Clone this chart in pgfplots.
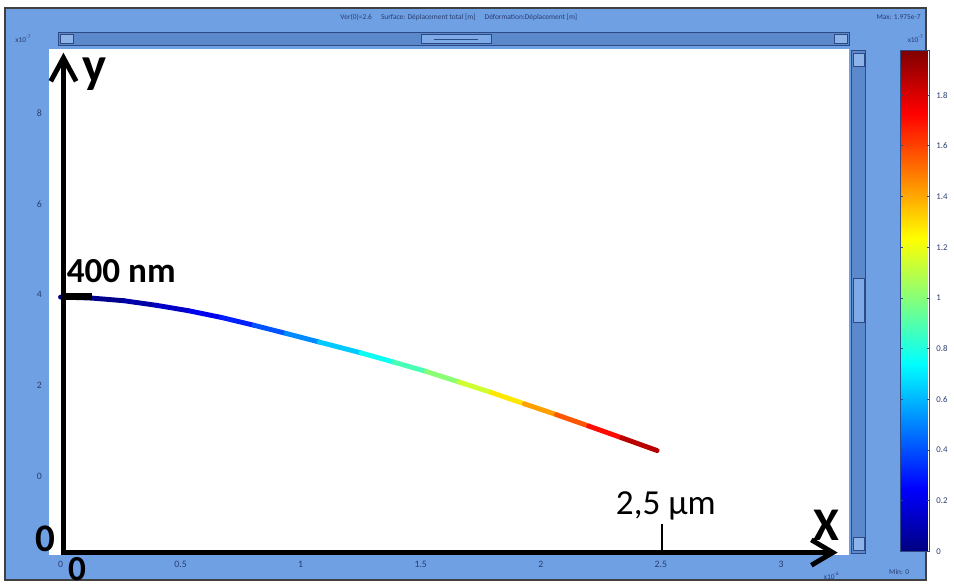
\documentclass[border=0pt]{standalone}
\usepackage{pgfplots}
\pgfplotsset{compat=1.18}
\usepackage{fontspec}
\setmainfont{Carlito}
\usetikzlibrary{arrows.meta}
\definecolor{bgblue}{RGB}{112,160,228}
\definecolor{sbblue}{RGB}{92,136,204}
\definecolor{sbdark}{RGB}{45,75,130}
\definecolor{ticktxt}{RGB}{40,60,110}
\begin{document}
\begin{tikzpicture}
% ---------- window background (pixel coordinates) ----------
\begin{scope}[x=0.5pt,y=-0.5pt,shift={(0pt,299.5pt)}]
  \fill[white] (0,0) rectangle (954,599);
  \fill[bgblue] (5,8) rectangle (949,594);
  \draw[black!75,line width=1pt] (5,8) rectangle (949,594);
  % top scrollbar
  \fill[sbblue] (60,33) rectangle (870,47);
  \draw[sbdark,line width=0.5pt] (60,33) rectangle (870,47);
  \draw[sbdark,line width=0.5pt,fill=bgblue!80!white] (62,35) rectangle (75,45);
  \draw[sbdark,line width=0.5pt,fill=bgblue!80!white] (855,35) rectangle (868,45);
  \draw[sbdark,line width=0.5pt,fill=bgblue!90!white] (432,35) rectangle (503,45);
  \draw[sbdark,line width=0.4pt] (445,40) -- (490,40);
  % right scrollbar
  \fill[sbblue] (872,52) rectangle (887,567);
  \draw[sbdark,line width=0.5pt] (872,52) rectangle (887,567);
  \draw[sbdark,line width=0.5pt,fill=bgblue!80!white] (874,55) rectangle (885,68);
  \draw[sbdark,line width=0.5pt,fill=bgblue!80!white] (874,551) rectangle (885,564);
  \draw[sbdark,line width=0.5pt,fill=bgblue!90!white] (874,285) rectangle (885,330);
  % header texts
  \node[font=\fontsize{3.8}{4}\selectfont,text=ticktxt] at (470,18)
    {Ver(0)=2.6 \quad Surface: Déplacement total [m] \quad Déformation:Déplacement [m]};
  \node[font=\fontsize{3.8}{4}\selectfont,text=ticktxt,anchor=east] at (950,18) {Max: 1.975e-7};
  \node[font=\fontsize{3.8}{4}\selectfont,text=ticktxt] at (24,40) {x10\textsuperscript{-7}};
  \node[font=\fontsize{3.8}{4}\selectfont,text=ticktxt] at (938,40) {x10\textsuperscript{-7}};
  \node[font=\fontsize{3.8}{4}\selectfont,text=ticktxt] at (921,586) {Min: 0};
  \node[font=\fontsize{3.8}{4}\selectfont,text=ticktxt] at (852,590) {x10\textsuperscript{-6}};
\end{scope}
% ---------- the plot ----------
\begin{axis}[
  at={(25pt,15.5pt)}, anchor=south west,
  scale only axis, width=410pt, height=259pt,
  xmin=-0.0488, xmax=3.2846, ymin=-1.720, ymax=9.419,
  axis line style={draw=none},
  axis background/.style={fill=white},
  xtick={0,0.5,1,1.5,2,2.5,3},
  xticklabels={0,0.5,1,1.5,2,2.5,3},
  ytick={0,2,4,6,8},
  major tick length=0pt,
  tick label style={font=\fontsize{5}{6}\selectfont, text=ticktxt},
  /pgf/number format/assume math mode=true,
  clip=false,
  colormap/jet,
  point meta min=0, point meta max=1.975,
  colorbar,
  colorbar style={
    at={(parent axis.north east)}, anchor=north west,
    xshift=17.5pt, yshift=-1pt,
    scale only axis, width=15pt, height=256.5pt,
    ytick={0,0.2,0.4,0.6,0.8,1,1.2,1.4,1.6,1.8},
    yticklabel style={font=\fontsize{4.5}{5}\selectfont, text=ticktxt,
      /pgf/number format/fixed, /pgf/number format/assume math mode=true},
    major tick length=1.5pt,
    every tick/.style={sbdark},
    axis line style={draw=sbdark, line width=0.4pt},
  },
]
\addplot[mesh, shader=interp, point meta=explicit, line width=2.5pt, line cap=round] table[meta=c] {
x      y     c
0      3.95  0
0.126  3.93  0.012
0.264  3.87  0.046
0.398  3.77  0.104
0.533  3.65  0.173
0.671  3.50  0.259
0.805  3.33  0.357
0.939  3.15  0.460
1.077  2.96  0.569
1.252  2.72  0.707
1.386  2.52  0.822
1.524  2.31  0.943
1.659  2.08  1.075
1.793  1.85  1.208
1.931  1.60  1.351
2.065  1.36  1.489
2.199  1.11  1.633
2.337  0.85  1.782
2.484  0.57  1.950
};
\end{axis}
% ---------- hand-drawn annotations ----------
\begin{scope}[x=0.5pt,y=-0.5pt,shift={(0pt,299.5pt)}]
  \draw[line width=3pt,-{Straight Barb[length=12pt,width=13pt,line width=2.5pt]}] (65,568) -- (65,54);
  \draw[line width=2.5pt,-{Straight Barb[length=11pt,width=13pt,line width=2.5pt]}] (63,566) -- (858,566);
  \fill[black] (65,300) rectangle (94,307);
  \draw[line width=0.8pt] (678,537) -- (678,566);
  \node[font=\fontsize{26}{26}\bfseries\selectfont,inner sep=0pt] at (97,76) {y};
  \node[font=\fontsize{24}{24}\bfseries\selectfont,inner sep=0pt] at (846,538) {X};
  \node[font=\fontsize{20}{20}\bfseries\selectfont,inner sep=0pt] at (46,552) {0};
  \node[font=\fontsize{18}{18}\bfseries\selectfont,inner sep=0pt] at (79,583) {0};
  \node[font=\fontsize{18}{18}\bfseries\selectfont,inner sep=0pt,anchor=west] at (68,278) {400 nm};
  \node[font=\fontsize{18}{18}\selectfont,inner sep=0pt] at (682,518) {2,5 µm};
\end{scope}
\end{tikzpicture}
\end{document}
